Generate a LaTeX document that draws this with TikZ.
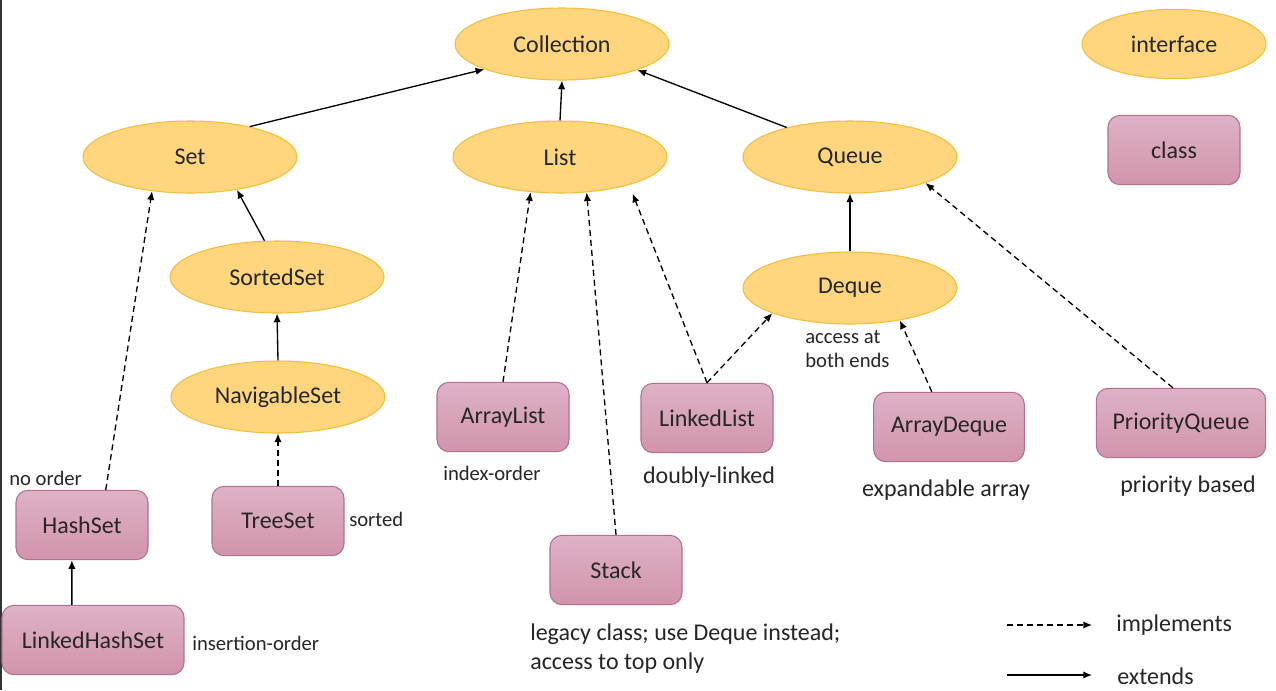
\documentclass[tikz,border=0pt]{standalone}
\usepackage{fontspec}
\setmainfont{Carlito}
\usetikzlibrary{arrows.meta,shapes.geometric}
\definecolor{ifill}{RGB}{255,214,125}
\definecolor{idraw}{RGB}{242,190,60}
\definecolor{ctop}{RGB}{222,178,198}
\definecolor{cbot}{RGB}{209,148,172}
\definecolor{cdraw}{RGB}{180,112,142}
\definecolor{txt}{RGB}{38,38,38}
\tikzset{
  iface/.style={ellipse, fill=ifill, draw=idraw, line width=0.8pt, minimum width=160.5pt, minimum height=54pt, inner sep=0pt, font=\fontsize{18}{22}\selectfont, text=txt},
  cls/.style={rectangle, rounded corners=9pt, top color=ctop, bottom color=cbot, draw=cdraw, line width=0.8pt, minimum width=99pt, minimum height=52pt, inner sep=0pt, font=\fontsize{18}{22}\selectfont, text=txt},
  lbl/.style={inner sep=0pt, font=\fontsize{15.5}{18}\selectfont, text=txt},
  biglbl/.style={inner sep=0pt, font=\fontsize{18}{22}\selectfont, text=txt},
  ext/.style={line width=1pt, -{Latex[length=6.5pt,width=5.5pt]}},
  impl/.style={line width=1pt, dash pattern=on 4.5pt off 3pt, -{Latex[length=6.5pt,width=5.5pt]}}
}
\begin{document}
\begin{tikzpicture}[x=0.75pt,y=-0.75pt]
\useasboundingbox (0,0) rectangle (1276,690);
\fill[white] (0,0) rectangle (1276,690);
\fill[black!80] (0,0) rectangle (2,690);
% interfaces
\node[iface] (coll) at (562,44) {Collection};
\node[iface, minimum width=138pt, minimum height=52pt] (iflegend) at (1174,44) {interface};
\node[iface] (set) at (190,157) {Set};
\node[iface] (list) at (560,157) {List};
\node[iface] (queue) at (850,157) {Queue};
\node[iface] (sorted) at (277,277) {SortedSet};
\node[iface] (nav) at (278,397) {NavigableSet};
\node[iface] (deque) at (850,288) {Deque};
% classes
\node[cls] (clslegend) at (1174,150) {class};
\node[cls] (alist) at (503,417) {ArrayList};
\node[cls] (llist) at (707,418) {LinkedList};
\node[cls, minimum width=113pt] (adeque) at (949,427) {ArrayDeque};
\node[cls, minimum width=127pt] (pq) at (1181,423) {PriorityQueue};
\node[cls] (hash) at (82,525) {HashSet};
\node[cls] (tree) at (278,521) {TreeSet};
\node[cls, minimum width=136.5pt] (lhs) at (93,640) {LinkedHashSet};
\node[cls] (stack) at (616,570) {Stack};
% labels
\node[lbl, anchor=west] (l1) at (9,478) {no order};
\node[lbl, anchor=west] (l2) at (349,519) {sorted};
\node[lbl, anchor=west] (l3) at (192,643) {insertion-order};
\node[lbl, anchor=west] (l4) at (443,473) {index-order};
\node[biglbl] (l5) at (709,477) {doubly-linked};
\node[lbl, anchor=west, align=left, font=\fontsize{15.5}{18}\selectfont] (l6) at (805,349) {access at\\both ends};
\node[biglbl] (l7) at (946,490) {expandable array};
\node[biglbl] (l8) at (1188,486) {priority based};
\node[biglbl, anchor=west, align=left, font=\fontsize{18}{21.75}\selectfont] (l9) at (530,649) {legacy class; use Deque instead;\\access to top only};
% edges
\draw[ext] (set.27) -- (coll.198);
\draw[ext] (list.north) -- (coll.south);
\draw[ext] (queue.155) -- (coll.341);
\draw[ext] (sorted.109) -- (set.325);
\draw[ext] (nav.north) -- (sorted.south);
\draw[impl] (tree.north) -- (nav.south);
\draw[impl] (hash.56) -- (set.222);
\draw[ext] (lhs.121) -- (hash.254);
\draw[impl] (alist.north) -- (list.230);
\draw[impl] (stack.north) -- (list.307);
\draw[impl, shorten >=7pt] (llist.north) -- (list.338);
\draw[impl] (llist.north) -- (deque.198);
\draw[ext] (deque.north) -- (queue.south);
\draw[impl] (adeque.116) -- (deque.327);
\draw[impl] (pq.103) -- (queue.341);
% legend
\coordinate (la1) at (1007,625);
\coordinate (la2) at (1092,625);
\coordinate (lb1) at (1007,675);
\coordinate (lb2) at (1092,675);
\draw[impl] (la1) -- (la2);
\draw[ext] (lb1) -- (lb2);
\node[biglbl, anchor=west] (limpl) at (1116,625) {implements};
\node[biglbl, anchor=west] (lext) at (1117,676) {extends};
\end{tikzpicture}
\end{document}
